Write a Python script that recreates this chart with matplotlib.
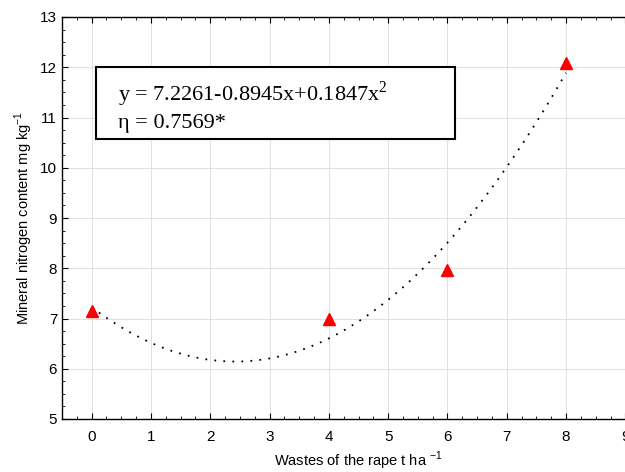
import matplotlib
matplotlib.use("Agg")
import matplotlib.pyplot as plt
import numpy as np
from matplotlib.patches import Rectangle
from matplotlib.ticker import MultipleLocator

# observed points
waste_t_ha = [0, 4, 6, 8]
mineral_n = [7.15, 7.0, 7.97, 12.08]

# quadratic fit reported in the chart
fit_coefs = [7.2261, -0.8945, 0.1847]
fit_eq = r"y = 7.2261-0.8945x+0.1847x$^{\mathregular{2}}$"
fit_eta = "\u03b7 = 0.7569*"

x_ticks = list(range(0, 10))
y_ticks = list(range(5, 14))

plt.rcParams["font.family"] = ["Liberation Sans", "DejaVu Sans"]

fig = plt.figure(figsize=(6.25, 4.72), dpi=100)
ax = fig.add_axes([62 / 625, 53 / 472, 593 / 625, 402 / 472])

xs = np.linspace(0, 8, 200)
ys = fit_coefs[0] + fit_coefs[1] * xs + fit_coefs[2] * xs ** 2
ax.plot(xs, ys, color="black", linestyle=(0, (1, 4)), linewidth=1.3)
ax.plot(waste_t_ha, mineral_n, linestyle="none", marker="^", color="red",
        markersize=9, clip_on=False, zorder=3)

ax.set_xlim(-0.5, 9.5)
ax.set_ylim(5, 13)
ax.set_xticks(x_ticks)
ax.set_yticks(y_ticks)
ax.xaxis.set_minor_locator(MultipleLocator(0.25))
ax.yaxis.set_minor_locator(MultipleLocator(0.25))
ax.tick_params(which="both", direction="in", top=True, right=True,
               labelsize=11)
ax.tick_params(which="major", length=4)
ax.tick_params(which="minor", length=2)
ax.tick_params(axis="x", pad=8)
ax.grid(True, which="major", color="#dcdcdc", linestyle="-", linewidth=0.6)
for side in ax.spines.values():
    side.set_linewidth(1.0)

ax.set_xlabel(r"Wastes of the rape t ha $^{\mathregular{-1}}$", fontsize=10.5)
ax.set_ylabel(r"Mineral nitrogen content mg kg$^{\mathregular{-1}}$",
              fontsize=10.5)

# equation box
ax.add_patch(Rectangle((0.08, 10.57), 6.04, 1.43, facecolor="white",
                       edgecolor="black", linewidth=1.5, zorder=4))
ax.text(0.44, 11.47, fit_eq, fontsize=16, family="Liberation Serif",
        va="center", ha="left", zorder=5)
ax.text(0.44, 10.88, fit_eta, fontsize=16, family="Liberation Serif",
        va="center", ha="left", zorder=5)

fig.savefig("out.png", dpi=100)
